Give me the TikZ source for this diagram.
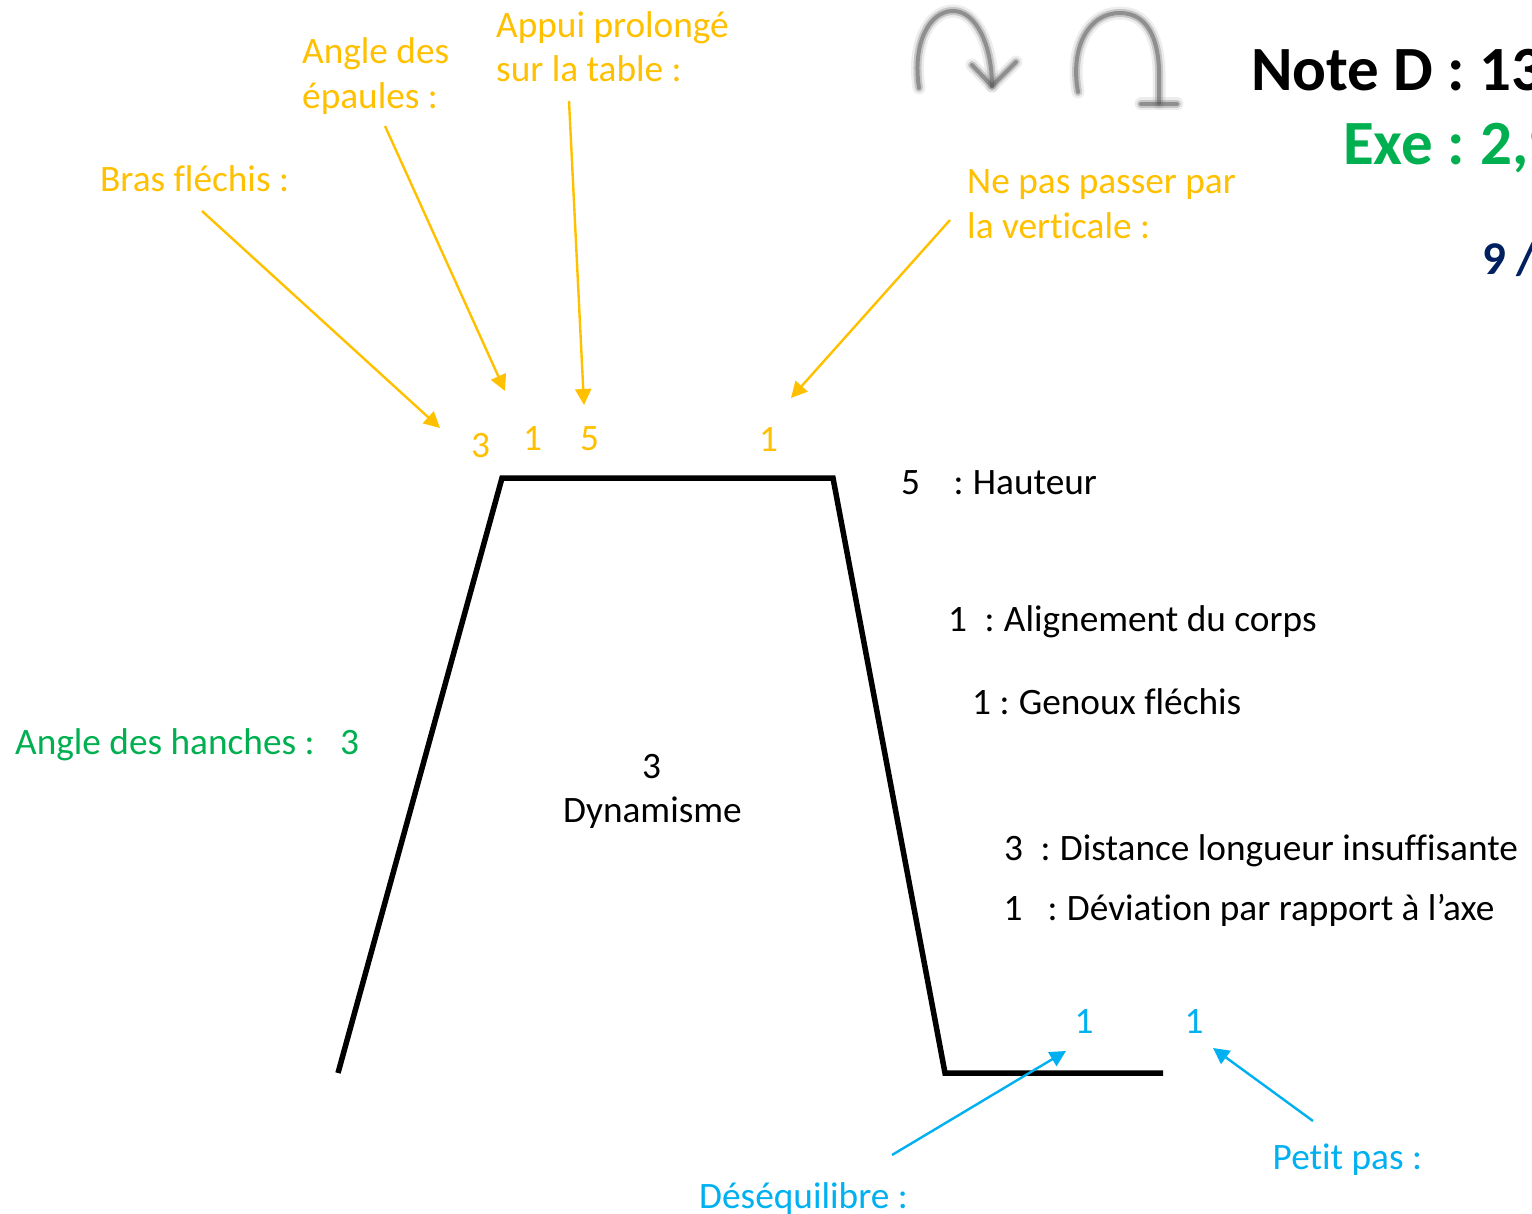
\documentclass[tikz,border=0pt]{standalone}
\usepackage{fontspec}
\setmainfont[Ligatures={NoCommon}]{Carlito}
\usetikzlibrary{arrows.meta}
\definecolor{cOr}{HTML}{FFC000}
\definecolor{cGr}{HTML}{00B050}
\definecolor{cBl}{HTML}{00B0F0}
\definecolor{cNv}{HTML}{002060}
\tikzset{
 txt/.style={inner sep=0pt,anchor=base west,yshift=-1pt,font=\fontsize{37.3}{44}\selectfont},
 big/.style={inner sep=0pt,anchor=base west,yshift=-1pt,font=\fontsize{63}{66}\selectfont\bfseries},
 mid/.style={inner sep=0pt,anchor=base west,yshift=-1pt,font=\fontsize{47}{50}\selectfont\bfseries},
 arr/.style={line width=2.4pt,-{Triangle[length=16pt,width=16pt]}},
 shape line/.style={line width=5.5pt,black,line join=miter},
 iconA/.style={line width=13pt,black!35,opacity=.2,line cap=round,line join=round},
 iconB/.style={line width=8pt,black!50,opacity=.35,line cap=round,line join=round},
 iconC/.style={line width=4pt,black!70,opacity=.45,line cap=round,line join=round},
}
\begin{document}
\begin{tikzpicture}[x=1pt,y=-1pt]
\useasboundingbox (0,0) rectangle (1532,1214);
\clip (0,0) rectangle (1532,1214);
% trapezoid shape
\coordinate (p1) at (338,1073);
\coordinate (p2) at (502,478);
\coordinate (p3) at (833,478);
\coordinate (p4) at (945,1073);
\coordinate (p5) at (1163,1073);
\draw[shape line] (p1) -- (p2) -- (p3) -- (p4) -- (p5);
% orange labels
\node[txt,text=cOr] (bras) at (100,191) {Bras fléchis :};
\node[txt,text=cOr] (angle1) at (302,63) {Angle des};
\node[txt,text=cOr] (angle2) at (302,108) {épaules :};
\node[txt,text=cOr] (appui1) at (496,37) {Appui prolongé};
\node[txt,text=cOr] (appui2) at (496,81) {sur la table :};
\node[txt,text=cOr] (ne1) at (967,193) {Ne pas passer par};
\node[txt,text=cOr] (ne2) at (967,238) {la verticale :};
\node[txt,text=cOr] (n3) at (471,456) {3};
\node[txt,text=cOr] (n1a) at (523,449) {1};
\node[txt,text=cOr] (n5) at (580,450) {5};
\node[txt,text=cOr] (n1b) at (759,451) {1};
% orange arrows
\coordinate (a1s) at (202,211); \coordinate (a1e) at (440,428);
\coordinate (a2s) at (385,126); \coordinate (a2e) at (505,391);
\coordinate (a3s) at (569,101); \coordinate (a3e) at (584,405);
\coordinate (a4s) at (950,220); \coordinate (a4e) at (791,398);
\draw[arr,cOr] (a1s) -- (a1e);
\draw[arr,cOr] (a2s) -- (a2e);
\draw[arr,cOr] (a3s) -- (a3e);
\draw[arr,cOr] (a4s) -- (a4e);
% green
\node[txt,text=cGr] (hanches) at (15,753) {Angle des hanches :};
\node[txt,text=cGr] (h3) at (340,753) {3};
% centre
\node[txt] (d3) at (642,777) {3};
\node[txt] (dyn) at (563,821) {Dynamisme};
% right list
\node[txt] (r1n) at (901,493) {5};
\node[txt] (r1) at (953.5,493) {:\kern-2pt{} Hauteur};
\node[txt] (r2n) at (948,630) {1};
\node[txt] (r2) at (984.5,630) {:\kern-2pt{} Alignement du corps};
\node[txt] (r3) at (972,713) {1 :\kern-2pt{} Genoux fléchis};
\node[txt] (r4n) at (1004,859) {3};
\node[txt] (r4) at (1040.5,859) {:\kern-2pt{} Distance longueur insuffisante};
\node[txt] (r5n) at (1003.5,919) {1};
\node[txt] (r5) at (1047.5,919) {:\kern-2pt{} Déviation par rapport à l’axe};
% blue
\node[txt,text=cBl] (b1) at (1074.5,1032) {1};
\node[txt,text=cBl] (b2) at (1184.5,1032) {1};
\node[txt,text=cBl] (petit) at (1272.5,1168) {Petit pas :};
\node[txt,text=cBl] (deseq) at (699,1207) {Déséquilibre :};
\coordinate (b1s) at (892,1155); \coordinate (b1e) at (1066,1051);
\coordinate (b2s) at (1313,1121); \coordinate (b2e) at (1213,1048);
\draw[arr,cBl] (b1s) -- (b1e);
\draw[arr,cBl] (b2s) -- (b2e);
% headings
\node[big] (note) at (1251,90) {Note D : 13};
\node[big,text=cGr] (exe) at (1343,164) {Exe :\kern-3pt{} 2,9};
\node[mid,text=cNv] (neuf) at (1482,274) {9 /};
% icons
\foreach \st in {iconA,iconB,iconC}{
 \draw[\st] (919,88) .. controls (912,42) and (930,11) .. (953,11) .. controls (976,11) and (992,45) .. (992,86);
 \draw[\st] (972,65) -- (992,86) -- (1016,62);
 \draw[\st] (1078,92) .. controls (1070,48) and (1088,13) .. (1120,13) .. controls (1152,13) and (1160,48) .. (1159,80) -- (1159,103);
 \draw[\st] (1141,104) -- (1177,104);
}
\end{tikzpicture}
\end{document}
